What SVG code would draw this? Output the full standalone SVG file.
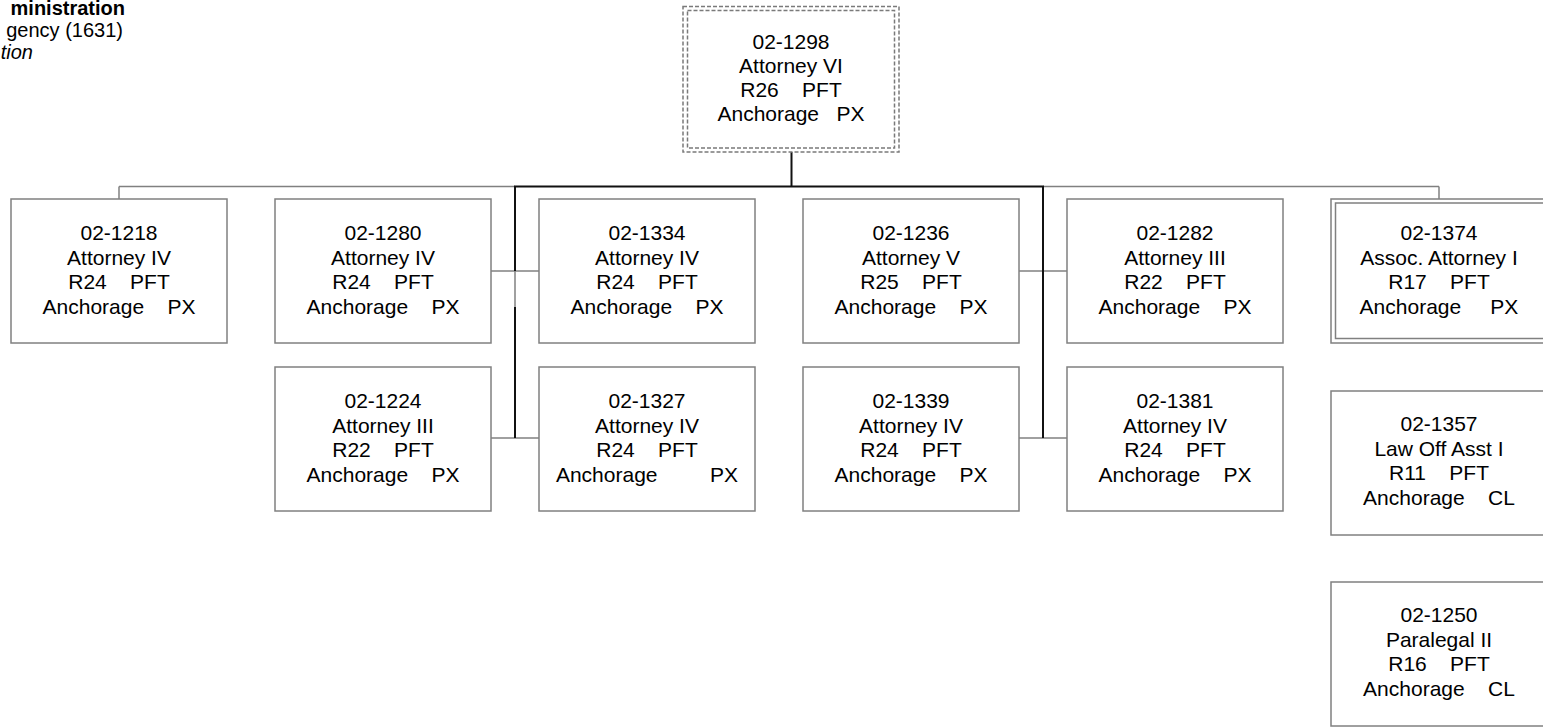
<svg xmlns="http://www.w3.org/2000/svg" width="1543" height="728" viewBox="0 0 1543 728">
<style>
  .box { fill: #ffffff; stroke: #808080; stroke-width: 1.5; }
  .dash { fill: none; stroke: #7a7a7a; stroke-width: 1.5; stroke-dasharray: 4 2; }
  .t { font-family: "Liberation Sans", Arial, sans-serif; font-size: 21px; fill: #000; text-anchor: middle; white-space: pre; }
  .h { font-family: "Liberation Sans", Arial, sans-serif; font-size: 20px; fill: #000; text-anchor: end; white-space: pre; }
  .g { fill: none; stroke: #808080; stroke-width: 1.5; }
  .k { fill: none; stroke: #111111; stroke-width: 2; }
</style>
<rect width="1543" height="728" fill="#ffffff"/>
<g id="header">
  <text class="h" x="125" y="15" font-weight="bold">ministration</text>
  <text class="h" x="123" y="37">gency (1631)</text>
  <text class="h" x="33" y="59" font-style="italic">tion</text>
</g>
<g id="connectors">
  <line class="g" x1="119" y1="186.5" x2="515" y2="186.5"/>
  <line class="g" x1="1043" y1="186.5" x2="1439" y2="186.5"/>
  <line class="g" x1="119" y1="186.5" x2="119" y2="199"/>
  <line class="g" x1="1439" y1="186.5" x2="1439" y2="199"/>
  <line class="g" x1="491" y1="271" x2="539" y2="271"/>
  <line class="g" x1="491" y1="438" x2="539" y2="438"/>
  <line class="g" x1="1019" y1="271" x2="1067" y2="271"/>
  <line class="g" x1="1019" y1="438" x2="1067" y2="438"/>
  <line class="k" x1="791.5" y1="152" x2="791.5" y2="186.5"/>
  <line class="k" x1="514" y1="186.5" x2="1044" y2="186.5"/>
  <line class="k" x1="515" y1="186" x2="515" y2="271"/>
  <line class="g" x1="515" y1="271" x2="515" y2="307"/>
  <line class="k" x1="515" y1="307" x2="515" y2="438"/>
  <line class="k" x1="1043" y1="186" x2="1043" y2="438"/>
</g>
<g id="n1298">
  <rect class="dash" x="683" y="6.5" width="216" height="145.5"/>
  <rect class="dash" x="687.5" y="10.5" width="207" height="137.5"/>
  <text class="t" x="791" y="49">02-1298</text>
  <text class="t" x="791" y="73">Attorney VI</text>
  <text class="t" x="791" y="97">R26    PFT</text>
  <text class="t" x="791" y="121">Anchorage   PX</text>
</g>
<g id="n1218">
  <rect class="box" x="11" y="199" width="216" height="144"/>
  <text class="t" x="119" y="240">02-1218</text>
  <text class="t" x="119" y="264.5">Attorney IV</text>
  <text class="t" x="119" y="289">R24    PFT</text>
  <text class="t" x="119" y="313.5">Anchorage    PX</text>
</g>
<g id="n1280">
  <rect class="box" x="275" y="199" width="216" height="144"/>
  <text class="t" x="383" y="240">02-1280</text>
  <text class="t" x="383" y="264.5">Attorney IV</text>
  <text class="t" x="383" y="289">R24    PFT</text>
  <text class="t" x="383" y="313.5">Anchorage    PX</text>
</g>
<g id="n1224">
  <rect class="box" x="275" y="367" width="216" height="144"/>
  <text class="t" x="383" y="408">02-1224</text>
  <text class="t" x="383" y="432.5">Attorney III</text>
  <text class="t" x="383" y="457">R22    PFT</text>
  <text class="t" x="383" y="481.5">Anchorage    PX</text>
</g>
<g id="n1334">
  <rect class="box" x="539" y="199" width="216" height="144"/>
  <text class="t" x="647" y="240">02-1334</text>
  <text class="t" x="647" y="264.5">Attorney IV</text>
  <text class="t" x="647" y="289">R24    PFT</text>
  <text class="t" x="647" y="313.5">Anchorage    PX</text>
</g>
<g id="n1327">
  <rect class="box" x="539" y="367" width="216" height="144"/>
  <text class="t" x="647" y="408">02-1327</text>
  <text class="t" x="647" y="432.5">Attorney IV</text>
  <text class="t" x="647" y="457">R24    PFT</text>
  <text class="t" x="647" y="481.5">Anchorage         PX</text>
</g>
<g id="n1236">
  <rect class="box" x="803" y="199" width="216" height="144"/>
  <text class="t" x="911" y="240">02-1236</text>
  <text class="t" x="911" y="264.5">Attorney V</text>
  <text class="t" x="911" y="289">R25    PFT</text>
  <text class="t" x="911" y="313.5">Anchorage    PX</text>
</g>
<g id="n1339">
  <rect class="box" x="803" y="367" width="216" height="144"/>
  <text class="t" x="911" y="408">02-1339</text>
  <text class="t" x="911" y="432.5">Attorney IV</text>
  <text class="t" x="911" y="457">R24    PFT</text>
  <text class="t" x="911" y="481.5">Anchorage    PX</text>
</g>
<g id="n1282">
  <rect class="box" x="1067" y="199" width="216" height="144"/>
  <text class="t" x="1175" y="240">02-1282</text>
  <text class="t" x="1175" y="264.5">Attorney III</text>
  <text class="t" x="1175" y="289">R22    PFT</text>
  <text class="t" x="1175" y="313.5">Anchorage    PX</text>
</g>
<g id="n1381">
  <rect class="box" x="1067" y="367" width="216" height="144"/>
  <text class="t" x="1175" y="408">02-1381</text>
  <text class="t" x="1175" y="432.5">Attorney IV</text>
  <text class="t" x="1175" y="457">R24    PFT</text>
  <text class="t" x="1175" y="481.5">Anchorage    PX</text>
</g>
<g id="n1374">
  <rect class="box" x="1331" y="199" width="216" height="144"/>
  <rect class="box" x="1335.5" y="203" width="212" height="135.5"/>
  <text class="t" x="1439" y="240">02-1374</text>
  <text class="t" x="1439" y="264.5">Assoc. Attorney I</text>
  <text class="t" x="1439" y="289">R17    PFT</text>
  <text class="t" x="1439" y="313.5">Anchorage     PX</text>
</g>
<g id="n1357">
  <rect class="box" x="1331" y="391" width="216" height="144"/>
  <text class="t" x="1439" y="431">02-1357</text>
  <text class="t" x="1439" y="455.5">Law Off Asst I</text>
  <text class="t" x="1439" y="480">R11    PFT</text>
  <text class="t" x="1439" y="504.5">Anchorage    CL</text>
</g>
<g id="n1250">
  <rect class="box" x="1331" y="582" width="216" height="144"/>
  <text class="t" x="1439" y="622">02-1250</text>
  <text class="t" x="1439" y="646.5">Paralegal II</text>
  <text class="t" x="1439" y="671">R16    PFT</text>
  <text class="t" x="1439" y="695.5">Anchorage    CL</text>
</g>
</svg>
